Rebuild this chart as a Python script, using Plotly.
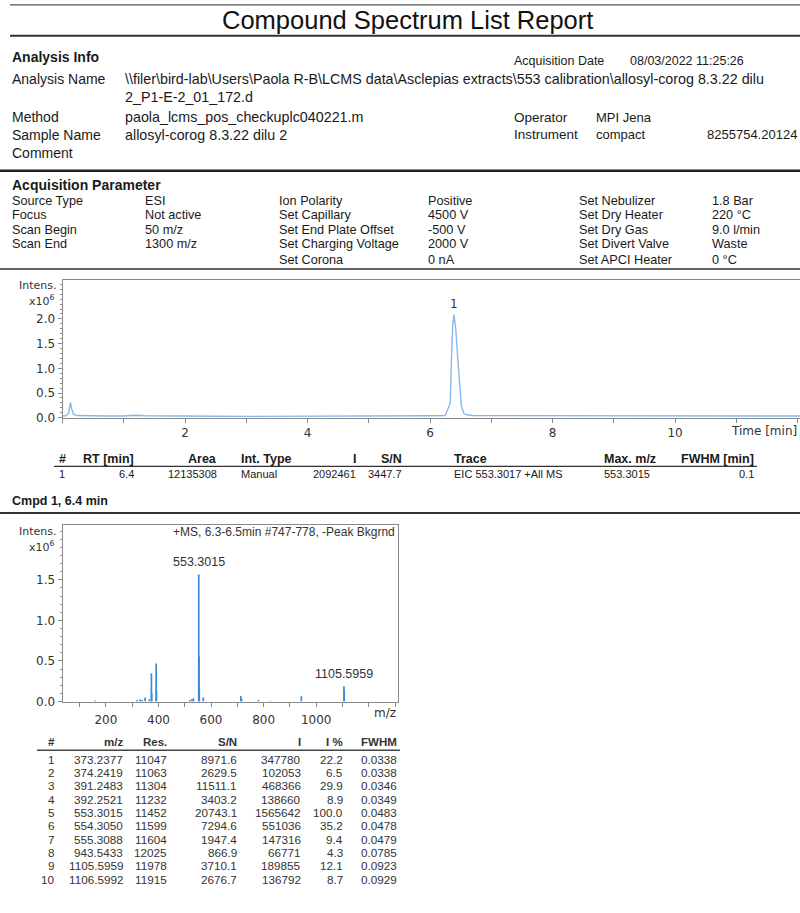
import plotly.graph_objects as go

W, H = 800, 913

# ---------------- data ----------------
report_title = "Compound Spectrum List Report"

info_left_labels = ["Analysis Name", "", "Method", "Sample Name", "Comment"]
info_left_values = [r"\\filer\bird-lab\Users\Paola R-B\LCMS data\Asclepias extracts\553 calibration\allosyl-corog 8.3.22 dilu",
                    "2_P1-E-2_01_172.d", "paola_lcms_pos_checkuplc040221.m", "allosyl-corog 8.3.22 dilu 2", ""]
acq_date = "08/03/2022 11:25:26"
operator = "MPI Jena"
instrument = "compact"
instrument_sn = "8255754.20124"

acq_col1 = ["Source Type", "Focus", "Scan Begin", "Scan End"]
acq_col2 = ["ESI", "Not active", "50 m/z", "1300 m/z"]
acq_col3 = ["Ion Polarity", "Set Capillary", "Set End Plate Offset", "Set Charging Voltage", "Set Corona"]
acq_col4 = ["Positive", "4500 V", "-500 V", "2000 V", "0 nA"]
acq_col5 = ["Set Nebulizer", "Set Dry Heater", "Set Dry Gas", "Set Divert Valve", "Set APCI Heater"]
acq_col6 = ["1.8 Bar", "220 °C", "9.0 l/min", "Waste", "0 °C"]

# chromatogram (EIC), intensity in x10^6
chrom_time = [0.00, 0.05, 0.10, 0.12, 0.13, 0.15, 0.18, 0.25, 0.40, 0.70, 1.00, 1.10, 1.20, 1.35, 1.60,
              2.00, 2.50, 3.00, 3.50, 4.00, 4.50, 5.00, 5.30, 5.60, 6.00, 6.25, 6.33, 6.35, 6.37,
              6.39, 6.42, 6.45, 6.48, 6.51, 6.55, 6.60, 6.70, 7.00, 7.20, 7.40, 8.00, 9.00, 10.00, 11.00, 12.04]
chrom_int = [0.035, 0.04, 0.09, 0.22, 0.31, 0.18, 0.07, 0.045, 0.04, 0.035, 0.035, 0.045, 0.05, 0.04, 0.035,
             0.03, 0.03, 0.028, 0.028, 0.028, 0.03, 0.03, 0.035, 0.04, 0.04, 0.045, 0.30, 1.20, 1.85,
             2.09, 1.80, 1.25, 0.70, 0.25, 0.09, 0.06, 0.045, 0.045, 0.05, 0.04, 0.035, 0.035, 0.035, 0.035, 0.035]
chrom_peak_num = ["1"]
chrom_peak_rt = [6.39]
chrom_peak_top = [2.09]

chrom_tbl_header = ["#", "RT [min]", "Area", "Int. Type", "I", "S/N", "Trace", "Max. m/z", "FWHM [min]"]
chrom_tbl_row = ["1", "6.4", "12135308", "Manual", "2092461", "3447.7", "EIC 553.3017 +All MS", "553.3015", "0.1"]

cmpd_title = "Cmpd 1, 6.4 min"
spec_title = "+MS, 6.3-6.5min #747-778, -Peak Bkgrnd"

# listed peaks of the mass spectrum
spec_mz = [373.2377, 374.2419, 391.2483, 392.2521, 553.3015, 554.3050, 555.3088, 943.5433, 1105.5959, 1106.5992]
spec_res = [11047, 11063, 11304, 11232, 11452, 11599, 11604, 12025, 11978, 11915]
spec_sn = [8971.6, 2629.5, 11511.1, 3403.2, 20743.1, 7294.6, 1947.4, 866.9, 3710.1, 2676.7]
spec_I = [347780, 102053, 468366, 138660, 1565642, 551036, 147316, 66771, 189855, 136792]
spec_Ipct = [22.2, 6.5, 29.9, 8.9, 100.0, 35.2, 9.4, 4.3, 12.1, 8.7]
spec_fwhm = [0.0338, 0.0338, 0.0346, 0.0349, 0.0483, 0.0478, 0.0479, 0.0785, 0.0923, 0.0929]
spec_labelled = [553.3015, 1105.5959]

# small unlisted peaks (x10^6)
minor_mz = [159.1, 318.2, 330.2, 337.2, 349.2, 365.2, 519.3, 527.3, 533.3, 570.3, 713.4, 716.4, 780.4, 825.5]
minor_int = [0.012, 0.02, 0.025, 0.02, 0.05, 0.03, 0.02, 0.03, 0.04, 0.05, 0.07, 0.03, 0.02, 0.01]

# ---------------- helpers ----------------
SANS = "Liberation Sans, Arial, sans-serif"
TICKF = "DejaVu Sans, Verdana, sans-serif"
annotations = []
shapes = []


def px(x):
    return x / W


def py(y):
    return 1 - y / H


def txt(x, y, s, size=12.5, anchor="left", bold=False, color="#1a1a1a", family=SANS):
    annotations.append(dict(x=px(x), y=py(y), xref="paper", yref="paper",
                            text=f"<b>{s}</b>" if bold else s, showarrow=False,
                            xanchor=anchor, yanchor="middle", borderpad=0,
                            font=dict(size=size, color=color, family=family)))


def hline(y, x0, x1, width=1.5, color="#333"):
    shapes.append(dict(type="line", xref="paper", yref="paper", x0=px(x0), x1=px(x1),
                       y0=py(y), y1=py(y), line=dict(color=color, width=width)))


fig = go.Figure()

# ---------------- chromatogram ----------------
fig.add_trace(go.Scatter(x=chrom_time, y=chrom_int, mode="lines",
                         line=dict(color="#86b8e8", width=1.4), xaxis="x", yaxis="y",
                         hoverinfo="skip", showlegend=False))
for n, rt, top in zip(chrom_peak_num, chrom_peak_rt, chrom_peak_top):
    annotations.append(dict(x=rt, y=top, xref="x", yref="y", text=n, showarrow=False,
                            yanchor="bottom", yshift=1, font=dict(size=12, color="#333", family=TICKF)))

# ---------------- mass spectrum ----------------
sx, sy = [], []
for m, i in zip(minor_mz, minor_int):
    sx += [m, m, None]
    sy += [0, i, None]
for m, i in zip(spec_mz, spec_I):
    sx += [m, m, None]
    sy += [0, i / 1e6, None]
fig.add_trace(go.Scatter(x=sx, y=sy, mode="lines", line=dict(color="#3a8ad6", width=1.7),
                         xaxis="x2", yaxis="y2", hoverinfo="skip", showlegend=False))
for m, i in zip(spec_mz, spec_I):
    if m in spec_labelled:
        annotations.append(dict(x=m, y=i / 1e6, xref="x2", yref="y2", text=f"{m:.4f}", showarrow=False,
                                yanchor="bottom", yshift=3, font=dict(size=12.5, color="#333", family=SANS)))

axis_common = dict(showline=True, linecolor="#8a8a8a", linewidth=1, showgrid=False, zeroline=False,
                   ticks="outside", ticklen=4, tickcolor="#8a8a8a", tickfont=dict(family=TICKF, size=12, color="#333"))

fig.update_layout(
    width=W, height=H, margin=dict(l=0, r=0, t=0, b=0),
    paper_bgcolor="white", plot_bgcolor="white",
    xaxis=dict(domain=[px(62.5), 1.0], range=[0, 12.04], anchor="y", mirror=True,
               tickvals=[2, 4, 6, 8, 10], minor=dict(dtick=1, tick0=0, ticks="outside", ticklen=4, tickcolor="#8a8a8a"),
               **axis_common),
    yaxis=dict(domain=[py(421), py(282)], range=[0, 2.79], anchor="x",
               tickvals=[0, 0.5, 1.0, 1.5, 2.0], tickformat=".1f",
               minor=dict(dtick=0.1, tick0=0, ticks="outside", ticklen=2, tickcolor="#8a8a8a"),
               **axis_common),
    xaxis2=dict(domain=[px(62.5), px(397.7)], range=[35, 1310], anchor="y2", mirror=True,
                tickvals=[200, 400, 600, 800, 1000], ticklabelstandoff=3,
                minor=dict(dtick=100, tick0=0, ticks="outside", ticklen=4, tickcolor="#8a8a8a"),
                **axis_common),
    yaxis2=dict(domain=[py(707), py(529)], range=[0, 2.175], anchor="x2", mirror=True,
                tickvals=[0, 0.5, 1.0, 1.5], tickformat=".1f",
                minor=dict(dtick=0.1, tick0=0, ticks="outside", ticklen=2, tickcolor="#8a8a8a"),
                **axis_common),
)

# ---------------- report text ----------------
hline(5, 10, 800, 1.2, "#555")
txt(407, 20, report_title, size=25.5, anchor="center", color="#111")
hline(36, 10, 800, 2, "#333")

txt(11, 57, "Analysis Info", size=14, bold=True)
txt(513, 61, "Acquisition Date", size=12.5)
txt(629, 61, acq_date, size=12.5)
info_y = [80, 98, 118, 136, 154]
for lab, val, y in zip(info_left_labels, info_left_values, info_y):
    if lab:
        txt(11, y, lab, size=14)
    if val:
        txt(124, y, val, size=14.3)
txt(513, 118, "Operator", size=13.5)
txt(595, 118, operator, size=13)
txt(513, 136, "Instrument", size=13.5)
txt(595, 136, instrument, size=13)
txt(706, 136, instrument_sn, size=13)
hline(172, 0, 800, 2.5, "#222")

txt(11, 186, "Acquisition Parameter", size=14, bold=True)
acq_y = [203, 217, 232, 246, 262]
for col, x in [(acq_col1, 11), (acq_col2, 144), (acq_col3, 278), (acq_col4, 427), (acq_col5, 578), (acq_col6, 711)]:
    for s, y in zip(col, acq_y):
        txt(x, y, s, size=12.7)
hline(271, 0, 800, 2, "#666")

# chromatogram labels
txt(58, 288, "Intens.", size=11, anchor="right", color="#333", family=TICKF)
txt(56, 303, "x10<sup>6</sup>", size=11, anchor="right", color="#333", family=TICKF)
txt(798, 434, "Time [min]", size=12, anchor="right", color="#333", family=TICKF)

# chromatogram table
ch_x = [(58, "left"), (135, "right"), (218, "right"), (240, "left"), (357, "right"),
        (403, "right"), (453, "left"), (603, "left"), (755, "right")]
for (x, a), h, v in zip(ch_x, chrom_tbl_header, chrom_tbl_row):
    txt(x, 463, h, size=12.5, anchor=a, bold=True)
    txt(x, 478, v, size=11, anchor=a)
hline(470, 54, 757, 1.2, "#333")

txt(11, 505, cmpd_title, size=12.5, bold=True)
hline(517, 0, 800, 2, "#333")

# spectrum labels
txt(58, 536, "Intens.", size=11, anchor="right", color="#333", family=TICKF)
txt(56, 551, "x10<sup>6</sup>", size=11, anchor="right", color="#333", family=TICKF)
txt(396, 536, spec_title, size=12, anchor="right", color="#333")
txt(397, 719, "m/z", size=12, anchor="right", color="#333", family=TICKF)

# spectrum table
sp_header = ["#", "m/z", "Res.", "S/N", "I", "I %", "FWHM"]
sp_x = [(56, "right"), (124, "right"), (168, "right"), (238, "right"), (302, "right"), (344, "right"), (398, "right")]
for (x, a), h in zip(sp_x, sp_header):
    txt(x, 748, h, size=11.5, anchor=a, bold=True, color="#333")
hline(756, 37, 400, 1.5, "#444")
for k in range(len(spec_mz)):
    row = [str(k + 1), f"{spec_mz[k]:.4f}", str(spec_res[k]), f"{spec_sn[k]:.1f}",
           str(spec_I[k]), f"{spec_Ipct[k]:.1f}", f"{spec_fwhm[k]:.4f}"]
    y = 765 + k * 13.45
    for (x, a), s in zip(sp_x, row):
        txt(x, y, s, size=11.7, anchor=a, color="#333")

fig.update_layout(annotations=annotations, shapes=shapes)
fig.write_html("out.html")
